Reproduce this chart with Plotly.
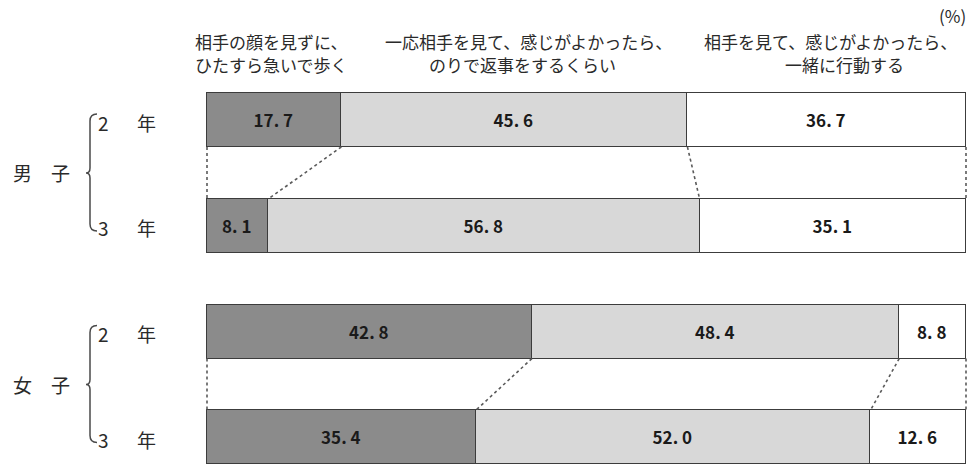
import plotly.graph_objects as go

# Survey shares (%) per group and grade
rows = ["男子2年", "男子3年", "女子2年", "女子3年"]
ignore_walk = [17.7, 8.1, 42.8, 35.4]      # 相手の顔を見ずに、ひたすら急いで歩く
reply_only = [45.6, 56.8, 48.4, 52.0]      # 一応相手を見て…のりで返事をするくらい
act_together = [36.7, 35.1, 8.8, 12.6]     # 相手を見て…一緒に行動する

series = [ignore_walk, reply_only, act_together]
fills = ["#8b8b8b", "#d8d8d8", "#ffffff"]

W, H = 978, 464
BAR_W = 0.51

# pixel helpers for decorations (paper coordinates)
def PX(px):
    return px / W

def PY(py):
    return 1 - py / H

def fmt(v):
    return f"{v:.1f}".replace(".", ". ")

fig = go.Figure()
ypos = list(range(len(rows)))
for vals, col in zip(series, fills):
    fig.add_trace(go.Bar(
        x=vals, y=ypos, orientation="h", width=BAR_W,
        marker=dict(color=col, line=dict(color="#3c3c3c", width=1.4)),
        text=[fmt(v) for v in vals], textposition="inside",
        insidetextanchor="middle", constraintext="none",
        textfont=dict(family="Noto Sans CJK JP", size=17, color="#1a1a1a", weight=700),
        hoverinfo="skip", showlegend=False,
    ))

# dotted connectors between grade 2 and grade 3 bars of each group
def bounds(i):
    b = [0.0]
    for s in series:
        b.append(b[-1] + s[i])
    return b

for top, bot in [(0, 1), (2, 3)]:
    bt, bb = bounds(top), bounds(bot)
    for xa, xb in zip(bt, bb):
        fig.add_trace(go.Scatter(
            x=[xa, xb], y=[top + BAR_W / 2, bot - BAR_W / 2], mode="lines",
            line=dict(color="#5a5a5a", width=1.6, dash="dot"),
            hoverinfo="skip", showlegend=False,
        ))

ann = []
def txt(s, px, py, size=17, xanchor="center", color="#2a2a2a"):
    ann.append(dict(text=s, x=PX(px), y=PY(py), xref="paper", yref="paper",
                    xanchor=xanchor, yanchor="middle", showarrow=False,
                    font=dict(family="Noto Sans CJK JP", size=size, color=color)))

# column headers
txt("相手の顔を見ずに、", 193, 41, xanchor="left")
txt("ひたすら急いで歩く", 193, 64, xanchor="left")
txt("一応相手を見て、感じがよかったら、", 528, 41)
txt("のりで返事をするくらい", 522, 64)
txt("相手を見て、感じがよかったら、", 830, 41)
txt("一緒に行動する", 844, 64)
txt("(%)", 968, 15, size=17, xanchor="right")

# group / grade labels and braces
groups = [("男", 0), ("女", 2)]
shapes = []
for g, r in groups:
    cy = 120 + 105.8 * (r + 0.5)
    txt(g, 22, cy, size=19)
    txt("子", 60, cy, size=19)
    for k in (0, 1):
        ry = 120 + 105.8 * (r + k) + 2
        txt("2" if k == 0 else "3", 103, ry, size=19)
        txt("年", 146, ry, size=19)
    t, b = cy - 59, cy + 58
    path = (f"M {PX(97)},{PY(t)} Q {PX(90)},{PY(t)} {PX(90)},{PY(t + 7)} "
            f"L {PX(90)},{PY(cy - 5)} Q {PX(90)},{PY(cy)} {PX(86)},{PY(cy)} "
            f"Q {PX(90)},{PY(cy)} {PX(90)},{PY(cy + 5)} "
            f"L {PX(90)},{PY(b - 7)} Q {PX(90)},{PY(b)} {PX(97)},{PY(b)}")
    shapes.append(dict(type="path", path=path, xref="paper", yref="paper",
                       line=dict(color="#4a4a4a", width=1.5)))

x0 = 207
scale = 7.59
fig.update_layout(
    width=W, height=H, margin=dict(l=0, r=0, t=0, b=0),
    barmode="stack", bargap=0,
    paper_bgcolor="white", plot_bgcolor="white",
    xaxis=dict(range=[-x0 / scale, (W - x0) / scale], visible=False, fixedrange=True),
    yaxis=dict(range=[(H - 120) / 105.8, -120 / 105.8], visible=False, fixedrange=True),
    annotations=ann, shapes=shapes,
)

fig.write_html("out.html")
